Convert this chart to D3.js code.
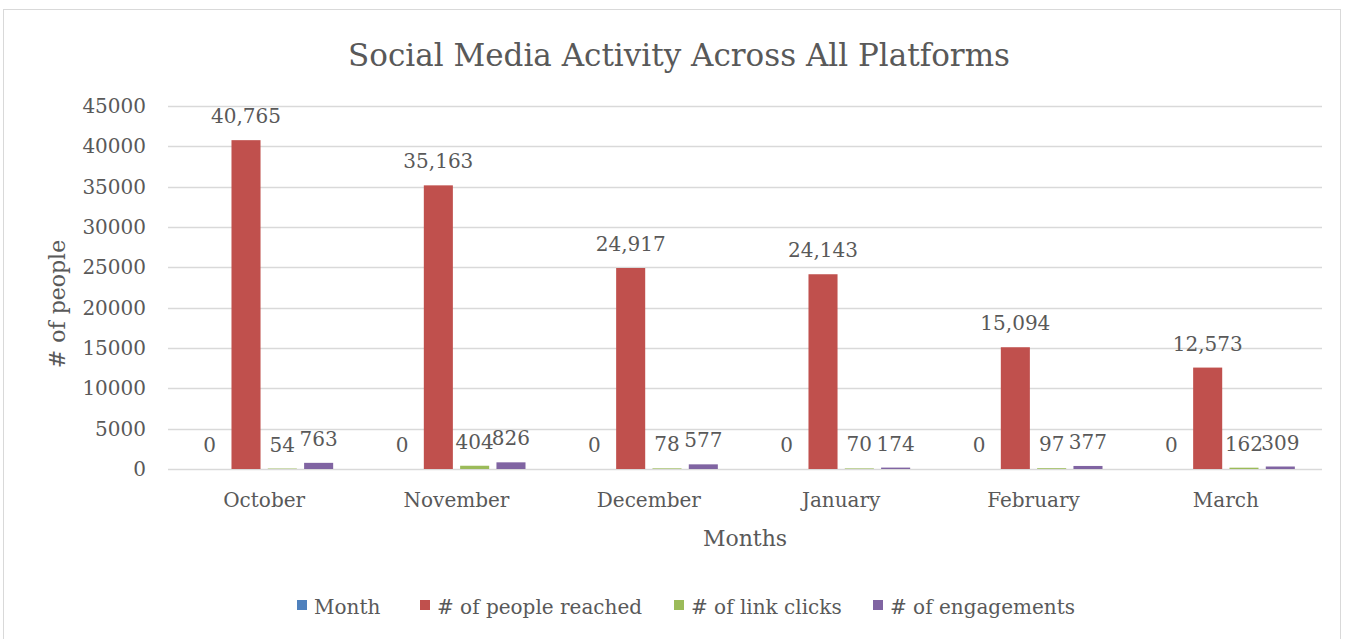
<!DOCTYPE html>
<html><head><meta charset="utf-8">
<script src="https://cdn.jsdelivr.net/npm/d3@7"></script>
<style>body{margin:0;background:#fff}svg{display:block}text{font-family:"DejaVu Serif",serif;fill:#595959}</style>
</head><body><svg id="c" width="1350" height="639"></svg>
<script>
const months = ["October","November","December","January","February","March"];
const seriesNames = ["Month","# of people reached","# of link clicks","# of engagements"];
const monthVals = [0,0,0,0,0,0];
const reached = [40765,35163,24917,24143,15094,12573];
const linkClicks = [54,404,78,70,97,162];
const engagements = [763,826,577,174,377,309];
const yTicks = [0,5000,10000,15000,20000,25000,30000,35000,40000,45000];
const colors = ["#4f81bd","#c0504d","#9bbb59","#8064a2"];
const series = [monthVals,reached,linkClicks,engagements];

const svg = d3.select("#c");
svg.append("rect").attr("x",3.5).attr("y",9.5).attr("width",1337).attr("height",640).attr("fill","none").attr("stroke","#d9d9d9");

const x0 = d3.scaleBand().domain(months).range([168,1322]).paddingInner(0).paddingOuter(0);
const x1 = d3.scaleBand().domain(d3.range(4)).range([x0.bandwidth()/2-69,x0.bandwidth()/2+69]).paddingInner(0.2).paddingOuter(0);
const y = d3.scaleLinear().domain([0,45000]).range([469,106]);

// gridlines
svg.append("g").selectAll("line").data(yTicks).join("line")
  .attr("x1",168).attr("x2",1322).attr("y1",d=>Math.round(y(d))+0.5).attr("y2",d=>Math.round(y(d))+0.5)
  .attr("stroke","#d9d9d9").attr("stroke-width",1.3);

// y tick labels
svg.append("g").selectAll("text").data(yTicks).join("text")
  .attr("x",146).attr("y",d=>y(d)+7).attr("text-anchor","end").attr("font-size",20).text(d=>d);

// bars
const fmt = d3.format(",");
const groups = svg.append("g").selectAll("g").data(months).join("g")
  .attr("transform",d=>`translate(${x0(d)},0)`);
groups.each(function(m,i){
  const g = d3.select(this);
  series.forEach((s,k)=>{
    const v = s[i];
    g.append("rect").attr("x",x1(k)).attr("width",x1.bandwidth())
      .attr("y",y(v)).attr("height",y(0)-y(v)).attr("fill",colors[k]);
  });
  series.forEach((s,k)=>{
    const v = s[i];
    g.append("text").attr("x",x1(k)+x1.bandwidth()/2).attr("y",y(v)-17)
      .attr("text-anchor","middle").attr("font-size",20).text(fmt(v));
  });
});

// category labels
svg.append("g").selectAll("text").data(months).join("text")
  .attr("x",d=>x0(d)+x0.bandwidth()/2).attr("y",507).attr("text-anchor","middle").attr("font-size",20).text(d=>d);

// axis titles
svg.append("text").attr("x",745).attr("y",546).attr("text-anchor","middle").attr("font-size",22).text("Months");
svg.append("text").attr("transform","translate(65,304) rotate(-90)").attr("text-anchor","middle").attr("font-size",22).text("# of people");

// title
svg.append("text").attr("x",679).attr("y",66).attr("text-anchor","middle").attr("font-size",31).text("Social Media Activity Across All Platforms");

// legend
const legX = [297,420,674,873];
const leg = svg.append("g").selectAll("g").data(seriesNames).join("g")
  .attr("transform",(d,i)=>`translate(${legX[i]},0)`);
leg.append("rect").attr("x",0).attr("y",600).attr("width",10).attr("height",10).attr("fill",(d,i)=>colors[i]);
leg.append("text").attr("x",17).attr("y",614).attr("font-size",20).text(d=>d);
</script></body></html>
